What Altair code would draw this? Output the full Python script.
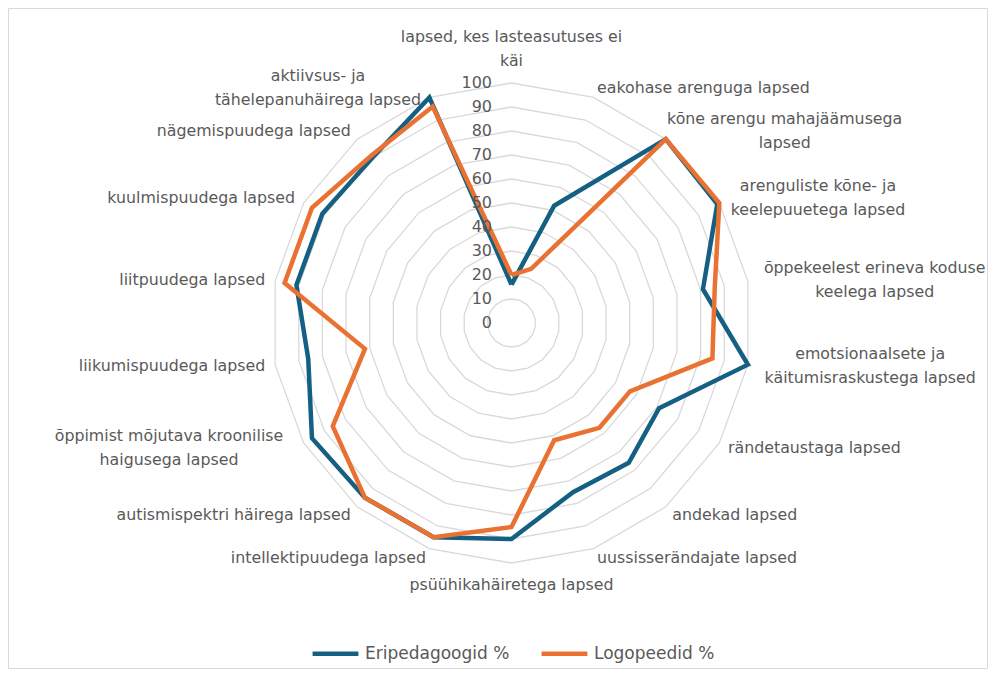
import altair as alt
import pandas as pd

# ---------------- data ----------------
categories = [
    "lapsed, kes lasteasutuses ei\nkäi",
    "eakohase arenguga lapsed",
    "kõne arengu mahajäämusega\nlapsed",
    "arenguliste kõne- ja\nkeelepuuetega lapsed",
    "õppekeelest erineva koduse\nkeelega lapsed",
    "emotsionaalsete ja\nkäitumisraskustega lapsed",
    "rändetaustaga lapsed",
    "andekad lapsed",
    "uussisserändajate lapsed",
    "psüühikahäiretega lapsed",
    "intellektipuudega lapsed",
    "autismispektri häirega lapsed",
    "õppimist mõjutava kroonilise\nhaigusega lapsed",
    "liikumispuudega lapsed",
    "liitpuudega lapsed",
    "kuulmispuudega lapsed",
    "nägemispuudega lapsed",
    "aktiivsus- ja\ntähelepanuhäirega lapsed",
]
eripedagoogid = [16, 52, 100, 99, 81, 100, 71, 76, 75, 90, 95, 95, 96, 86, 91, 91, 90, 100]
logopeedid = [20, 24, 100, 100, 86, 85, 57, 57, 52, 85, 95, 95, 86, 62, 96, 96, 91, 96]
series_names = ["Eripedagoogid %", "Logopeedid %"]
series_colors = ["#156082", "#E97132"]
ticks = list(range(0, 101, 10))

# ---------------- geometry / style ----------------
N = len(categories)
W, H = 979, 660
CX, CY = 503.5, 315.0      # centre of the radar inside the view (px)
PX = 2.4                   # px per value unit
X_DOM = [-CX / PX, (W - CX) / PX]
Y_DOM = [-(H - CY) / PX, CY / PX]
R_LAB = 100 + 10 / PX      # label anchor radius
LFS = 15.8                 # label font size
CW = 9.0                   # approx char width of label font (px)
LH = 24                    # label line height (px)
FONT = "DejaVu Sans"
TXT = "#595959"

ANG = f"2*PI*datum.k/{N}"

def xenc(field):
    return alt.X(f"{field}:Q", scale=alt.Scale(domain=X_DOM, nice=False, zero=False), axis=None)

def yenc(field):
    return alt.Y(f"{field}:Q", scale=alt.Scale(domain=Y_DOM, nice=False, zero=False), axis=None)

# series
rows = []
for name, vals in zip(series_names, [eripedagoogid, logopeedid]):
    for i in range(N + 1):
        rows.append({"series": name, "k": i, "value": vals[i % N]})
series_df = pd.DataFrame(rows)

# grid polygons
grid_df = pd.DataFrame([{"level": lv, "k": i} for lv in ticks[1:] for i in range(N + 1)])

# tick labels
tick_df = pd.DataFrame({"level": ticks, "zero": [0] * len(ticks)})

# category labels
lab_df = pd.DataFrame({
    "k": list(range(N)),
    "label": categories,
    "nlines": [c.count("\n") + 1 for c in categories],
    "nchar": [max(len(p) for p in c.split("\n")) for c in categories],
})

grid = alt.Chart(grid_df).transform_calculate(
    x=f"datum.level*sin({ANG})", y=f"datum.level*cos({ANG})"
).mark_line(color="#d9d9d9", strokeWidth=1.3).encode(
    x=xenc("x"), y=yenc("y"), detail="level:N", order="k:Q"
)

lines = alt.Chart(series_df).transform_calculate(
    x=f"datum.value*sin({ANG})", y=f"datum.value*cos({ANG})"
).mark_line(strokeWidth=4.5, strokeJoin="miter").encode(
    x=xenc("x"), y=yenc("y"),
    color=alt.Color("series:N",
                    scale=alt.Scale(domain=series_names, range=series_colors),
                    legend=alt.Legend(
                        orient="none", legendX=302, legendY=620, direction="horizontal",
                        title=None, symbolType="stroke", symbolStrokeWidth=4.5,
                        symbolSize=2100, labelFontSize=17, labelFont=FONT,
                        labelColor=TXT, labelOffset=4, columnPadding=22,
                    )),
    order="k:Q",
)

tick_text = alt.Chart(tick_df).mark_text(
    align="right", baseline="middle", dx=-19.5, font=FONT, fontSize=16, color=TXT
).encode(x=xenc("zero"), y=yenc("level"), text="level:Q")

lab_base = alt.Chart(lab_df).transform_calculate(
    s=f"sin({ANG})", c=f"cos({ANG})"
).transform_calculate(
    ax=f"{R_LAB}*datum.s", ay=f"{R_LAB}*datum.c"
)

lab_right = lab_base.transform_filter("datum.nlines == 1 && datum.s > 0.01").mark_text(
    align="left", baseline="middle", font=FONT, fontSize=LFS, color=TXT
).encode(x=xenc("ax"), y=yenc("ay"), text="label:N")

lab_left = lab_base.transform_filter("datum.nlines == 1 && datum.s < -0.01").mark_text(
    align="right", baseline="middle", font=FONT, fontSize=LFS, color=TXT
).encode(x=xenc("ax"), y=yenc("ay"), text="label:N")

lab_center = lab_base.transform_filter(
    "datum.nlines > 1 || abs(datum.s) <= 0.01"
).transform_calculate(
    side="datum.s > 0.01 ? 1 : (datum.s < -0.01 ? -1 : 0)",
    vside="abs(datum.s) <= 0.01 ? (datum.c > 0 ? 1 : -1) : 0",
).transform_calculate(
    lx=f"datum.ax + datum.side*datum.nchar*{CW}/2/{PX}",
    ly=f"datum.ay + datum.vside*datum.nlines*{LH}/2/{PX} + (datum.nlines-1)*{LH}/2/{PX}",
).mark_text(
    align="center", baseline="middle", lineBreak="\n", lineHeight=LH,
    font=FONT, fontSize=LFS, color=TXT
).encode(x=xenc("lx"), y=yenc("ly"), text="label:N")

chart = alt.layer(grid, lines, tick_text, lab_right, lab_left, lab_center).properties(
    width=W, height=H, autosize=alt.AutoSizeParams(type="none"),
    padding={"left": 0, "top": 0, "right": 2, "bottom": 2},
    background="white",
).configure_view(stroke="#d9d9d9", strokeWidth=1)

chart.save("out.html", embed_options={"renderer": "svg", "actions": False})
